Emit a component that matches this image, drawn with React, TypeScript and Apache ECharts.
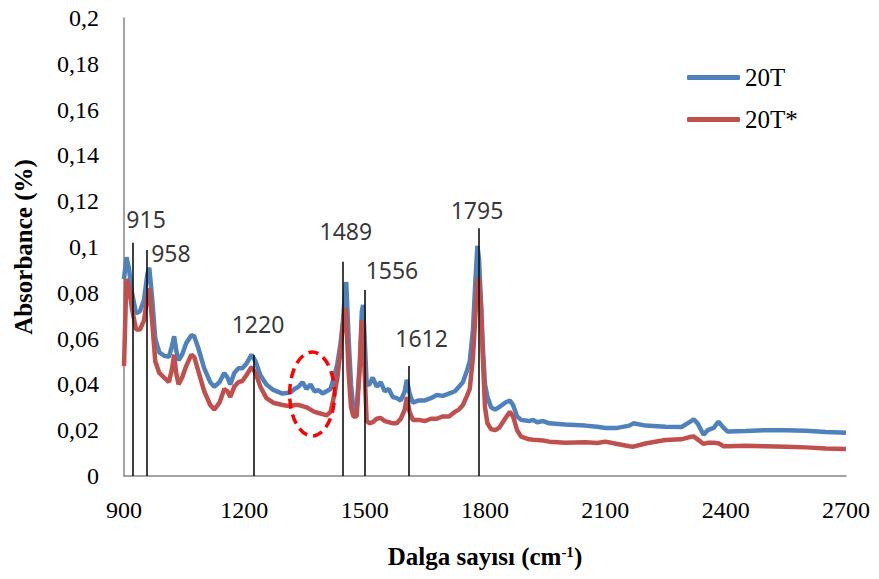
import React, { useEffect, useRef } from "react";
import * as echarts from "echarts";

const wavenumbers = [
  900, 906, 912, 920, 930, 940, 950, 958, 963, 970, 978, 988, 1000, 1012, 1020, 1025, 1030, 1036, 1045, 1055,
  1068, 1075, 1085, 1100, 1115, 1125, 1138, 1150, 1158, 1165, 1175, 1185, 1195, 1205, 1218, 1228, 1240, 1255,
  1272, 1295, 1315, 1325, 1335, 1345, 1355, 1365, 1375, 1385, 1395, 1405, 1415, 1425, 1432, 1440, 1446, 1451,
  1454, 1460, 1466, 1472, 1480, 1488, 1493, 1496, 1500, 1505, 1512, 1520, 1530, 1540, 1550, 1560, 1570, 1580,
  1590, 1600, 1605, 1612, 1620, 1635, 1650, 1665, 1680, 1695, 1710, 1725, 1735, 1745, 1755, 1762, 1770, 1776,
  1781, 1785, 1790, 1795, 1800, 1806, 1815, 1825, 1835, 1850, 1862, 1870, 1880, 1890, 1910, 1920, 1930, 1945,
  1960, 2000, 2050, 2080, 2100, 2130, 2160, 2170, 2200, 2250, 2290, 2310, 2320, 2330, 2345, 2355, 2370, 2382,
  2395, 2405, 2450, 2500, 2550, 2600, 2650, 2700,
];

const absorbance20T = [
  0.086, 0.0955, 0.091, 0.08, 0.071, 0.072, 0.077, 0.088, 0.091, 0.078, 0.06, 0.054, 0.0525, 0.052, 0.057, 0.061,
  0.055, 0.0505, 0.053, 0.058, 0.0615, 0.061, 0.056, 0.047, 0.041, 0.039, 0.041, 0.045, 0.043, 0.04, 0.045, 0.047,
  0.047, 0.049, 0.053, 0.05, 0.044, 0.04, 0.0376, 0.036, 0.0365, 0.038, 0.039, 0.041, 0.038, 0.04, 0.037, 0.0375,
  0.036, 0.037, 0.038, 0.044, 0.049, 0.058, 0.068, 0.08, 0.0847, 0.06, 0.04, 0.029, 0.029, 0.05, 0.072, 0.0747,
  0.06, 0.04, 0.04, 0.043, 0.039, 0.041, 0.037, 0.038, 0.0345, 0.034, 0.033, 0.037, 0.042, 0.036, 0.032, 0.033,
  0.033, 0.034, 0.0354, 0.035, 0.036, 0.037, 0.039, 0.041, 0.046, 0.05, 0.064, 0.085, 0.1005, 0.095, 0.075, 0.055,
  0.04, 0.0346, 0.03, 0.029, 0.03, 0.032, 0.033, 0.031, 0.026, 0.0245, 0.024, 0.0245, 0.0235, 0.024, 0.023, 0.0225,
  0.022, 0.0215, 0.021, 0.021, 0.022, 0.023, 0.022, 0.0215, 0.0214, 0.0235, 0.0248, 0.023, 0.018, 0.02, 0.021,
  0.0237, 0.021, 0.0194, 0.0196, 0.02, 0.02, 0.0198, 0.0192, 0.0189,
];

const absorbance20TStar = [
  0.048, 0.086, 0.083, 0.073, 0.064, 0.064, 0.068, 0.078, 0.082, 0.068, 0.05, 0.045, 0.043, 0.041, 0.047, 0.053,
  0.045, 0.04, 0.043, 0.048, 0.053, 0.052, 0.046, 0.037, 0.031, 0.029, 0.032, 0.038, 0.037, 0.0345, 0.039, 0.041,
  0.0415, 0.044, 0.0476, 0.045, 0.039, 0.034, 0.032, 0.031, 0.0305, 0.031, 0.031, 0.0305, 0.03, 0.029, 0.028,
  0.0275, 0.027, 0.0265, 0.028, 0.036, 0.043, 0.055, 0.066, 0.0734, 0.07, 0.045, 0.03, 0.026, 0.026, 0.048, 0.068,
  0.064, 0.045, 0.024, 0.023, 0.0235, 0.025, 0.0253, 0.024, 0.0235, 0.023, 0.023, 0.025, 0.029, 0.0345, 0.028,
  0.0245, 0.0245, 0.024, 0.025, 0.025, 0.026, 0.026, 0.028, 0.029, 0.031, 0.035, 0.038, 0.052, 0.07, 0.084, 0.087,
  0.075, 0.05, 0.03, 0.023, 0.0205, 0.02, 0.021, 0.025, 0.028, 0.026, 0.02, 0.0172, 0.016, 0.0158, 0.0157, 0.0155,
  0.015, 0.0145, 0.0147, 0.0144, 0.015, 0.014, 0.013, 0.0128, 0.0142, 0.0157, 0.016, 0.017, 0.0173, 0.016, 0.014,
  0.0145, 0.0145, 0.0143, 0.013, 0.013, 0.0132, 0.013, 0.0128, 0.0125, 0.012, 0.0118,
];

const seriesNames = ["20T", "20T*"];

// annotation: peak marker lines and their labels (in data units)
const peakLabels = ["915", "958", "1220", "1489", "1556", "1612", "1795"];
const peakLineX = [921, 957, 1224, 1446, 1499, 1611, 1784];
const peakLineTop = [0.1019, 0.0987, 0.0528, 0.0936, 0.0812, 0.048, 0.1082];
const peakLabelX = [955, 1017, 1234, 1453, 1568, 1642, 1780];
const peakLabelY = [0.1122, 0.0974, 0.0664, 0.107, 0.09, 0.0603, 0.1162];

// dashed highlight ellipse (data units)
const highlightCenter = [1369, 0.0358];
const highlightRadius = [56, 0.0183];

const SERIF = "'Liberation Serif', 'Times New Roman', serif";

export default function App() {
  const ref = useRef<HTMLDivElement>(null);

  useEffect(() => {
    if (!ref.current) return;
    const chart = echarts.init(ref.current, null, { renderer: "svg" });

    const option: any = {
      animation: false,
      backgroundColor: "#ffffff",
      grid: { left: 124, top: 18, right: 33, bottom: 103, containLabel: false },
      legend: {
        data: seriesNames,
        orient: "vertical",
        left: 687,
        top: 65,
        padding: 0,
        itemGap: 17,
        itemWidth: 53,
        itemHeight: 5,
        icon: "roundRect",
        textStyle: { fontFamily: SERIF, fontSize: 25, color: "#000", lineHeight: 25 },
      },
      xAxis: {
        type: "value",
        min: 900,
        max: 2700,
        interval: 300,
        name: "Dalga sayısı (cm{sup|-1})",
        nameLocation: "middle",
        nameGap: 68,
        nameTextStyle: {
          fontFamily: SERIF,
          fontSize: 25,
          fontWeight: "bold",
          color: "#000",
          rich: {
            sup: { fontFamily: SERIF, fontSize: 15, fontWeight: "bold", color: "#000", verticalAlign: "top" },
          },
        },
        axisLine: { show: true, lineStyle: { color: "#868686", width: 1.5 } },
        axisTick: { show: false },
        splitLine: { show: false },
        axisLabel: {
          margin: 22,
          fontFamily: SERIF,
          fontSize: 24,
          color: "#000",
          showMinLabel: true,
          showMaxLabel: true,
          formatter: (v: number) => String(Math.round(v)),
        },
      },
      yAxis: {
        type: "value",
        min: 0,
        max: 0.2,
        interval: 0.02,
        name: "Absorbance (%)",
        nameLocation: "middle",
        nameGap: 88,
        nameTextStyle: { fontFamily: SERIF, fontSize: 25, fontWeight: "bold", color: "#000" },
        axisLine: { show: true, lineStyle: { color: "#868686", width: 1.5 } },
        axisTick: { show: false },
        splitLine: { show: false },
        axisLabel: {
          margin: 25,
          fontFamily: SERIF,
          fontSize: 24,
          color: "#000",
          formatter: (v: number) => String(+v.toFixed(2)).replace(".", ","),
        },
      },
      series: [
        {
          name: seriesNames[0],
          type: "line",
          data: wavenumbers.map((w, i) => [w, absorbance20T[i]]),
          showSymbol: false,
          symbol: "none",
          lineStyle: { color: "#4F81BD", width: 4.5 },
          itemStyle: { color: "#4F81BD" },
          z: 3,
        },
        {
          name: seriesNames[1],
          type: "line",
          data: wavenumbers.map((w, i) => [w, absorbance20TStar[i]]),
          showSymbol: false,
          symbol: "none",
          lineStyle: { color: "#C0504D", width: 4.5 },
          itemStyle: { color: "#C0504D" },
          z: 4,
        },
        {
          name: "peaks",
          type: "scatter",
          silent: true,
          clip: false,
          symbolSize: 1,
          itemStyle: { color: "rgba(0,0,0,0)" },
          data: peakLabels.map((t, i) => [peakLabelX[i], peakLabelY[i], t]),
          label: {
            show: true,
            position: "inside",
            formatter: (p: any) => p.value[2],
            fontFamily: "'Noto Sans', 'Open Sans', sans-serif",
            fontSize: 23,
            color: "#000",
          },
          markLine: {
            silent: true,
            symbol: ["none", "none"],
            label: { show: false },
            lineStyle: { color: "#111", width: 1.6, type: "solid" },
            data: peakLineX.map((x, i) => [{ coord: [x, 0] }, { coord: [x, peakLineTop[i]] }]),
          },
          z: 6,
        },
      ],
    };

    chart.setOption(option);

    const c = chart.convertToPixel({ xAxisIndex: 0, yAxisIndex: 0 }, highlightCenter) as number[];
    const e = chart.convertToPixel({ xAxisIndex: 0, yAxisIndex: 0 }, [
      highlightCenter[0] + highlightRadius[0],
      highlightCenter[1] + highlightRadius[1],
    ]) as number[];
    chart.setOption({
      graphic: [
        {
          type: "ellipse",
          silent: true,
          z: 100,
          shape: { cx: c[0], cy: c[1], rx: Math.abs(e[0] - c[0]), ry: Math.abs(c[1] - e[1]) },
          style: { fill: "none", stroke: "#FF0000", lineWidth: 3.5, lineDash: [10, 6] },
        },
      ],
    });

    return () => chart.dispose();
  }, []);

  return (
    <div
      ref={ref}
      style={{ position: "fixed", left: 0, top: 0, width: 879, height: 579, background: "#fff" }}
    />
  );
}
